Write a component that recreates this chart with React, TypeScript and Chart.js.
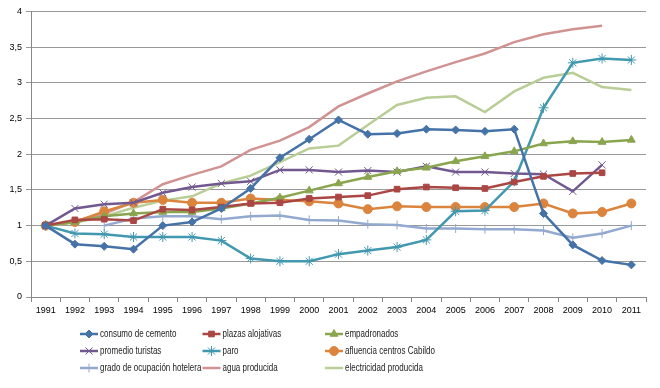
import React, { useEffect, useRef } from "react";
import { Chart, registerables } from "chart.js";
import { drawPoint } from "chart.js/helpers";

Chart.register(...registerables);

const years = ["1991","1992","1993","1994","1995","1996","1997","1998","1999","2000","2001","2002","2003","2004","2005","2006","2007","2008","2009","2010","2011"];

const cemento = [1.0, 0.74, 0.71, 0.67, 1.0, 1.05, 1.24, 1.52, 1.95, 2.21, 2.48, 2.28, 2.29, 2.35, 2.34, 2.32, 2.35, 1.17, 0.73, 0.51, 0.45];
const plazas = [1.0, 1.08, 1.09, 1.07, 1.23, 1.22, 1.26, 1.31, 1.32, 1.38, 1.40, 1.42, 1.51, 1.54, 1.53, 1.52, 1.61, 1.69, 1.73, 1.74, null];
const empadronados = [1.0, 1.05, 1.13, 1.17, 1.19, 1.19, 1.24, 1.31, 1.39, 1.49, 1.59, 1.68, 1.76, 1.81, 1.90, 1.97, 2.04, 2.15, 2.18, 2.17, 2.2];
const turistas = [1.0, 1.24, 1.30, 1.32, 1.46, 1.54, 1.59, 1.62, 1.78, 1.78, 1.75, 1.77, 1.75, 1.83, 1.75, 1.75, 1.73, 1.72, 1.48, 1.85, null];
const paro = [1.0, 0.89, 0.88, 0.84, 0.84, 0.84, 0.79, 0.54, 0.5, 0.5, 0.6, 0.65, 0.7, 0.8, 1.2, 1.21, 1.62, 2.65, 3.28, 3.34, 3.32];
const afluencia = [1.0, 1.05, 1.2, 1.32, 1.36, 1.32, 1.32, 1.38, 1.36, 1.34, 1.31, 1.23, 1.27, 1.26, 1.26, 1.26, 1.26, 1.31, 1.17, 1.19, 1.31];
const ocupacion = [null, null, 1.0, 1.1, 1.13, 1.13, 1.09, 1.13, 1.14, 1.08, 1.07, 1.02, 1.01, 0.96, 0.96, 0.95, 0.95, 0.93, 0.83, 0.89, 1.0];
const agua = [1.0, 1.06, 1.17, 1.33, 1.58, 1.71, 1.83, 2.06, 2.19, 2.38, 2.67, 2.85, 3.02, 3.16, 3.29, 3.41, 3.57, 3.68, 3.75, 3.8, null];
const electricidad = [1.0, 1.04, 1.13, 1.25, 1.35, 1.41, 1.59, 1.70, 1.89, 2.08, 2.12, 2.41, 2.69, 2.79, 2.81, 2.59, 2.88, 3.07, 3.14, 2.94, 2.9];

const yTicks = [0, 0.5, 1, 1.5, 2, 2.5, 3, 3.5, 4];

const FONT = "'Liberation Sans', Arial, sans-serif";

type S = { label: string; data: (number | null)[]; color: string; style: string | false; r: number; bw: number };

const series: S[] = [
  { label: "consumo de cemento", data: cemento, color: "#4572A7", style: "rectRot", r: 4, bw: 1 },
  { label: "plazas alojativas", data: plazas, color: "#AA4643", style: "rect", r: 4, bw: 1 },
  { label: "empadronados", data: empadronados, color: "#89A54E", style: "triangle", r: 4.5, bw: 1 },
  { label: "promedio turistas", data: turistas, color: "#71588F", style: "crossRot", r: 5, bw: 1 },
  { label: "paro", data: paro, color: "#4198AF", style: "star", r: 5, bw: 1 },
  { label: "afluencia centros Cabildo", data: afluencia, color: "#DB843D", style: "circle", r: 4.5, bw: 1 },
  { label: "grado de ocupación hotelera", data: ocupacion, color: "#93A9CF", style: "cross", r: 4.5, bw: 1 },
  { label: "agua producida", data: agua, color: "#D19392", style: false, r: 0, bw: 0 },
  { label: "electricidad producida", data: electricidad, color: "#B9CD96", style: false, r: 0, bw: 0 },
];

const gridLegend = {
  id: "gridLegend",
  afterDraw(chart: any) {
    const ctx = chart.ctx;
    series.forEach((s, i) => {
      const col = i % 3;
      const row = Math.floor(i / 3);
      const x = 72 + col * 122.5;
      const y = 332 + row * 17;
      ctx.save();
      ctx.strokeStyle = s.color;
      ctx.lineWidth = 2.5;
      ctx.beginPath();
      ctx.moveTo(x, y);
      ctx.lineTo(x + 18, y);
      ctx.stroke();
      if (s.style) {
        ctx.fillStyle = s.color;
        ctx.strokeStyle = s.color;
        ctx.lineWidth = s.bw;
        drawPoint(ctx, { pointStyle: s.style, rotation: 0, radius: s.r, borderWidth: s.bw } as any, x + 9, y);
      }
      ctx.fillStyle = "#222";
      ctx.font = `10px ${FONT}`;
      ctx.textBaseline = "middle";
      ctx.textAlign = "left";
      ctx.translate(x + 20, y + 0.5);
      ctx.scale(0.8, 1);
      ctx.fillText(s.label, 0, 0);
      ctx.restore();
    });
  },
};

export default function App() {
  const ref = useRef<HTMLCanvasElement>(null);
  useEffect(() => {
    if (!ref.current) return;
    const chart = new Chart(ref.current, {
      type: "line",
      data: {
        labels: years,
        datasets: series.map((s) => ({
          label: s.label,
          data: s.data,
          borderColor: s.color,
          backgroundColor: s.color,
          borderWidth: 2.5,
          pointStyle: s.style as any,
          pointRadius: s.r,
          pointBorderWidth: s.bw,
          pointBorderColor: s.color,
          pointBackgroundColor: s.color,
          tension: 0,
          spanGaps: false,
          fill: false,
        })),
      },
      options: {
        animation: false,
        responsive: true,
        maintainAspectRatio: false,
        layout: { padding: { left: 0, right: 1, top: 0, bottom: 61 } },
        plugins: { legend: { display: false }, tooltip: { enabled: false } },
        scales: {
          x: {
            offset: true,
            grid: { offset: true, drawOnChartArea: false, drawTicks: true, tickLength: 5, color: "#888" },
            border: { color: "#888", width: 1 },
            ticks: { color: "#000", font: { family: FONT, size: 9 }, padding: 3, maxRotation: 0, autoSkip: false },
            afterFit: (sc: any) => { sc.height = 22; },
          },
          y: {
            min: 0,
            max: 4,
            afterBuildTicks: (sc: any) => { sc.ticks = yTicks.map((v) => ({ value: v })); },
            grid: { color: "#999", tickLength: 5, lineWidth: 1 },
            border: { color: "#888", width: 1 },
            ticks: {
              color: "#000",
              font: { family: FONT, size: 9 },
              padding: 4,
              callback: (v: any) => String(v).replace(".", ","),
            },
            afterFit: (sc: any) => { sc.width = 23; },
          },
        },
      },
      plugins: [gridLegend],
    });
    return () => chart.destroy();
  }, []);
  return (
    <div style={{ position: "relative", width: "644px", height: "378px", marginTop: "-6px" }}>
      <canvas ref={ref} />
    </div>
  );
}
